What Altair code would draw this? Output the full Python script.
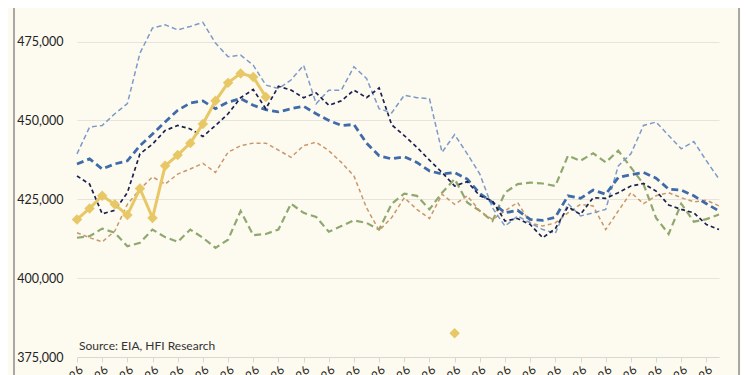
import altair as alt
import pandas as pd

# x positions: weekly index (0..51), labels every second week
week_index = list(range(52))
tick_labels = ["2-Jan-26", "16-Jan-26", "30-Jan-26", "13-Feb-26", "27-Feb-26", "13-Mar-26",
               "27-Mar-26", "10-Apr-26", "24-Apr-26", "8-May-26", "22-May-26", "5-Jun-26",
               "19-Jun-26", "3-Jul-26", "17-Jul-26", "31-Jul-26", "14-Aug-26", "28-Aug-26",
               "11-Sep-26", "25-Sep-26", "9-Oct-26", "23-Oct-26", "6-Nov-26", "20-Nov-26",
               "4-Dec-26", "18-Dec-26"]

# values in thousand barrels
light_blue = [439.4, 447.9, 448.4, 452.1, 455.3, 471.3, 479.3, 480.3, 478.7, 479.8, 481.1, 474.5, 470.2,
              470.7, 467.5, 461.2, 460.1, 462.8, 467.5, 455.3, 459.6, 459.6, 467.0, 463.3, 453.7, 452.4,
              458.0, 457.2, 456.9, 439.9, 445.5, 439.4, 433.0, 422.3, 416.5, 419.7, 417.5, 415.4, 414.2,
              423.6, 419.7, 420.7, 421.8, 435.6, 439.4, 448.4, 449.5, 445.2, 441.0, 443.3, 437.2, 431.4]
navy = [432.4, 429.8, 420.4, 421.5, 427.1, 439.4, 442.5, 446.8, 448.4, 447.3, 444.9, 448.4, 452.1,
        457.2, 459.8, 453.7, 460.8, 459.6, 457.2, 458.7, 454.8, 456.2, 459.6, 457.2, 460.3, 448.6,
        445.2, 441.5, 437.4, 433.5, 429.2, 430.6, 426.1, 424.5, 418.1, 418.9, 417.0, 412.8, 415.7,
        422.6, 420.2, 425.5, 425.3, 427.1, 429.2, 430.0, 427.6, 423.2, 421.8, 420.7, 417.0, 415.4]
mid_blue = [436.2, 437.8, 434.6, 436.2, 437.2, 442.0, 445.7, 449.5, 453.2, 455.5, 456.2, 453.7, 455.8,
            456.9, 454.8, 453.4, 452.7, 453.7, 454.5, 452.1, 450.0, 448.4, 448.7, 442.8, 438.8, 437.8,
            438.5, 436.7, 434.0, 433.0, 433.5, 431.4, 426.8, 424.0, 420.7, 421.5, 418.6, 418.3, 419.3,
            426.1, 425.3, 427.9, 426.6, 431.9, 432.8, 433.5, 431.7, 428.2, 427.9, 426.1, 423.6, 421.3]
brown = [414.4, 412.8, 411.5, 414.9, 423.4, 428.2, 432.1, 429.8, 433.0, 434.6, 436.4, 433.5, 439.9,
         442.0, 442.8, 442.8, 440.6, 438.3, 442.0, 443.1, 440.4, 436.7, 432.4, 422.3, 415.1, 419.2,
         425.5, 421.8, 418.9, 426.6, 423.4, 426.1, 421.3, 418.6, 421.3, 424.0, 417.5, 416.5, 417.5,
         420.7, 423.4, 422.9, 415.4, 421.3, 427.1, 423.6, 426.1, 427.1, 425.5, 424.2, 424.7, 422.9]
green = [412.8, 413.3, 415.7, 414.4, 410.1, 411.2, 415.4, 413.0, 411.5, 415.4, 412.8, 409.6, 412.2,
         421.3, 413.6, 414.0, 415.4, 423.6, 420.7, 419.4, 414.7, 416.5, 418.3, 417.5, 415.4, 423.6,
         426.8, 426.1, 421.8, 427.1, 431.4, 424.0, 421.3, 418.1, 427.1, 429.8, 430.3, 430.0, 429.2,
         438.8, 437.2, 439.6, 436.7, 440.4, 435.1, 429.8, 419.1, 414.0, 423.6, 417.9, 418.7, 420.2]
gold = [418.6, 422.1, 426.1, 423.4, 420.0, 428.4, 419.1, 435.6, 439.0, 442.8, 448.9, 456.2, 461.9,
        464.9, 463.8, 457.4]
gold_extra_index = [30]
gold_extra_value = [382.5]

y_ticks = [375000, 400000, 425000, 450000, 475000]

CREAM = "#FDFAF0"
FONT = "Lato"

x_scale = alt.Scale(domain=[0, 51], nice=False, zero=False)
y_scale = alt.Scale(domain=[375000, 485636], nice=False, zero=False)

label_array = "[" + ",".join("'" + s + "'" for s in tick_labels) + "]"

x_axis = alt.Axis(values=list(range(0, 52, 2)), labelExpr=label_array + "[round(datum.value / 2)]",
                  labelAngle=-45, grid=False, domain=True, domainColor="#D9D9D4", domainWidth=1,
                  ticks=True, tickColor="#D9D9D4", tickSize=5, labelFont=FONT, labelFontSize=12,
                  labelColor="#222222", labelPadding=2, title=None, labelOverlap=False)
y_axis = alt.Axis(values=y_ticks, format=",.0f", grid=True, gridColor="#E6E4DC", gridWidth=1,
                  domain=False, ticks=False, labelFont=FONT, labelFontSize=12.5, labelColor="#222222",
                  labelPadding=14, title=None)

X = alt.X("w:Q", scale=x_scale, axis=x_axis)
Y = alt.Y("v:Q", scale=y_scale, axis=y_axis)

one = pd.DataFrame({"a": [0]})

border_l = alt.Chart(one).mark_rule(color="#8C8C8C", strokeWidth=1.5).encode(
    x=alt.value(-63), y=alt.value(-20), y2=alt.value(420))
border_r = alt.Chart(one).mark_rule(color="#8C8C8C", strokeWidth=1.5).encode(
    x=alt.value(662), y=alt.value(-20), y2=alt.value(420))

def dashed(values, color, width, dash):
    df = pd.DataFrame({"w": week_index, "v": [v * 1000 for v in values]})
    return alt.Chart(df).mark_line(color=color, strokeWidth=width, strokeDash=dash).encode(x=X, y=Y)

l_green = dashed(green, "#8FA86E", 2.2, [7, 4])
l_brown = dashed(brown, "#C9976A", 1.5, [4, 3])
l_light = dashed(light_blue, "#7D9BC8", 1.5, [5, 3])
l_mid = dashed(mid_blue, "#3F6BA9", 2.8, [7, 4])
l_navy = dashed(navy, "#1B2150", 1.7, [4, 3])

gold_df = pd.DataFrame({"w": week_index[:len(gold)], "v": [v * 1000 for v in gold]})
gold_pts_df = pd.DataFrame({"w": week_index[:len(gold)] + gold_extra_index,
                            "v": [v * 1000 for v in gold + gold_extra_value]})
gold_line = alt.Chart(gold_df).mark_line(color="#E8C866", strokeWidth=3).encode(x=X, y=Y)
gold_pts = alt.Chart(gold_pts_df).mark_point(shape="diamond", filled=True, size=110,
                                             color="#E8C866", opacity=1).encode(x=X, y=Y)

source = alt.Chart(one).mark_text(text="Source: EIA, HFI Research", align="left", baseline="middle",
                                  font=FONT, fontSize=12, color="#333333").encode(
    x=alt.value(2), y=alt.value(338))

chart = alt.layer(border_l, border_r, l_green, l_brown, l_light, l_mid,
                  l_navy, gold_line, gold_pts, source).properties(
    width=642, height=349,
    autosize=alt.AutoSizeParams(type="none"),
    padding={"left": 69, "top": 0, "right": 22, "bottom": 30},
).configure(background=CREAM).configure_view(stroke=None)

chart.save("out.html", embed_options={"renderer": "svg", "actions": False})
